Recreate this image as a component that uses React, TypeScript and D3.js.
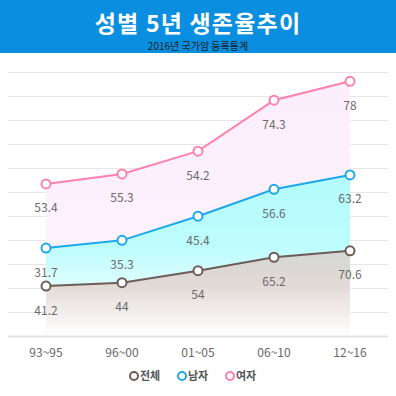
import React from 'react';
import * as d3 from 'd3';

const periods = ['93~95', '96~00', '01~05', '06~10', '12~16'];
const totalValues = [41.2, 44, 54, 65.2, 70.6];
const maleValues = [31.7, 35.3, 45.4, 56.6, 63.2];
const femaleValues = [53.4, 55.3, 54.2, 74.3, 78];
const yTicks = [0, 20, 40, 60, 80, 100, 120, 140, 160, 180, 200, 220];

const series = [
  { key: 'total', name: '전체', values: totalValues, color: '#6d5c57' },
  { key: 'male', name: '남자', values: maleValues, color: '#1ca8ea' },
  { key: 'female', name: '여자', values: femaleValues, color: '#ff80b0' },
];

const W = 396;
const H = 396;
const font = '"Noto Sans CJK KR", "Noto Sans", sans-serif';

export default function App() {
  const x = d3.scaleBand<string>().domain(periods).range([8, 388]);
  const y = d3.scaleLinear().domain([0, 220]).range([335.5, 71.5]);
  const cx = (p: string) => (x(p) as number) + x.bandwidth() / 2;

  // stacked totals
  const stacked = series.map((s, i) =>
    s.values.map((_, j) => d3.sum(series.slice(0, i + 1), (t) => t.values[j]))
  );

  const area = d3
    .area<number>()
    .x((_, j) => cx(periods[j]))
    .y0(y(0))
    .y1((d) => y(d));
  const line = d3
    .line<number>()
    .x((_, j) => cx(periods[j]))
    .y((d) => y(d));

  const fills = ['url(#gTotal)', 'url(#gMale)', 'url(#gFemale)'];

  return (
    <svg
      width={W}
      height={H}
      style={{ position: 'absolute', left: 0, top: 0, background: '#fff' }}
    >
      <defs>
        <linearGradient id="gFemale" x1="0" y1="0" x2="0" y2="1">
          <stop offset="0%" stopColor="#fdeefc" />
          <stop offset="100%" stopColor="#fdf3fd" />
        </linearGradient>
        <linearGradient id="gMale" x1="0" y1="0" x2="0" y2="1">
          <stop offset="0%" stopColor="#b4fcfd" />
          <stop offset="45%" stopColor="#bdfcfd" />
          <stop offset="80%" stopColor="#ecfefe" />
          <stop offset="100%" stopColor="#ffffff" />
        </linearGradient>
        <linearGradient id="gTotal" x1="0" y1="0" x2="0" y2="1">
          <stop offset="0%" stopColor="#d3d7d4" />
          <stop offset="40%" stopColor="#e2d9d6" />
          <stop offset="100%" stopColor="#ffffff" />
        </linearGradient>
      </defs>

      {/* header */}
      <rect x={0} y={0} width={W} height={53} fill="#0a8ee0" />
      <text
        x={198}
        y={32}
        textAnchor="middle"
        fontFamily={font}
        fontWeight="bold"
        fontSize={23}
        letterSpacing={1.2}
        fill="#fff"
      >
        성별 5년 생존율추이
      </text>
      <text x={198} y={50} textAnchor="middle" fontFamily={font} fontSize={10} fill="#222">
        2016년 국가암 등록통계
      </text>

      {/* grid */}
      {yTicks.slice(1).map((t) => (
        <line key={t} x1={8} x2={388} y1={Math.round(y(t)) + 0.5} y2={Math.round(y(t)) + 0.5} stroke="#e6e6e6" />
      ))}

      {/* areas, back to front */}
      {[2, 1, 0].map((i) => (
        <path key={'a' + i} d={area(stacked[i]) as string} fill={fills[i]} />
      ))}

      <line x1={8} x2={388} y1={y(0) + 1} y2={y(0) + 1} stroke="#e3e3e3" strokeWidth={2} />

      {/* lines + markers + labels */}
      {series.map((s, i) => (
        <g key={s.key}>
          <path d={line(stacked[i]) as string} fill="none" stroke={s.color} strokeWidth={2} />
          {stacked[i].map((v, j) => (
            <circle key={j} cx={cx(periods[j])} cy={y(v)} r={4.5} fill="#fff" stroke={s.color} strokeWidth={2} />
          ))}
          {stacked[i].map((v, j) => (
            <text
              key={'t' + j}
              x={cx(periods[j])}
              y={y(v) + 28.5}
              textAnchor="middle"
              fontFamily={font}
              fontSize={12}
              fill="#6a6a6a"
            >
              {s.values[j]}
            </text>
          ))}
        </g>
      ))}

      {/* x axis labels */}
      {periods.map((p) => (
        <text key={p} x={cx(p)} y={357} textAnchor="middle" fontFamily={font} fontSize={12} fill="#666">
          {p}
        </text>
      ))}

      {/* legend */}
      {series.map((s, i) => (
        <g key={'l' + s.key} transform={`translate(${134 + i * 48},376)`}>
          <circle r={4} fill="#fff" stroke={s.color} strokeWidth={2} />
          <text x={6} y={4} fontFamily={font} fontSize={11} fontWeight="bold" fill="#555">
            {s.name}
          </text>
        </g>
      ))}
    </svg>
  );
}
